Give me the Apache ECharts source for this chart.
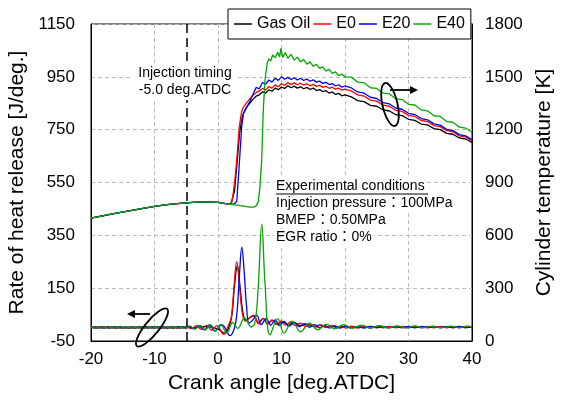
<!DOCTYPE html>
<html>
<head>
<meta charset="utf-8">
<script src="https://cdn.jsdelivr.net/npm/echarts@6/dist/echarts.min.js"></script>
<style>
html, body { margin: 0; padding: 0; background: #fff; }
#chart { width: 561px; height: 401px; }
</style>
</head>
<body>
<div id="chart"></div>
<script>
var fuels = ['Gas Oil', 'E0', 'E20', 'E40'];
var colors = ['#000000', '#ff0000', '#0000ff', '#00a800'];

// cylinder temperature [K] (right axis); compression part is the same for every fuel
var compressionTemp = [[-20,698],[-18,712],[-16,726],[-14,739],[-12,752],[-10,764],[-8,774],[-6,782],[-4,787],[-2,790],[0,787],[1,781],[1.5,777]];
var gasOilTemp = [[2,776],[2.3,782],[2.6,850],[3.0,1010],[3.4,1180],[3.8,1270],[4.1,1300],[4.5,1328],[5,1350],[5.5,1372],[6,1390],[6.5,1398],[7,1414],[7.5,1408],[8,1426],[8.5,1418],[9,1436],[9.5,1427],[10,1442],[10.5,1434],[11,1449],[11.5,1438],[12,1447],[12.5,1436],[13,1444],[13.5,1432],[14,1440],[14.5,1428],[15,1436],[15.5,1422],[16,1428],[16.5,1416],[17,1421],[17.5,1408],[18,1414],[18.5,1400],[19,1406],[19.5,1392],[20,1397],[21,1386],[22,1365],[23,1359],[24,1338],[25,1333],[26,1312],[27,1306],[28,1285],[29,1280],[30,1259],[31,1253],[32,1232],[33,1227],[34,1206],[35,1200],[36,1179],[37,1174],[38,1153],[39,1147],[40,1128]];
var e0Temp = [[2,778],[2.2,790],[2.4,837],[2.7,930],[2.95,1026],[3.15,1120],[3.35,1215],[3.7,1300],[4,1328],[4.5,1352],[5,1375],[5.5,1396],[6,1410],[6.5,1420],[7,1434],[7.5,1426],[8,1444],[8.5,1436],[9,1454],[9.5,1444],[10,1461],[10.5,1451],[11,1467],[11.5,1456],[12,1466],[12.5,1455],[13,1464],[13.5,1452],[14,1461],[14.5,1449],[15,1457],[15.5,1446],[16,1452],[16.5,1440],[17,1447],[17.5,1435],[18,1441],[18.5,1430],[19,1436],[19.5,1424],[20,1430],[21,1420],[22,1397],[23,1391],[24,1368],[25,1362],[26,1339],[27,1333],[28,1310],[29,1304],[30,1281],[31,1275],[32,1252],[33,1246],[34,1223],[35,1217],[36,1194],[37,1188],[38,1165],[39,1159],[40,1138]];
var e20Temp = [[2,776],[2.5,778],[2.95,792],[3.3,975],[3.73,1215],[4.0,1290],[4.4,1318],[5.0,1360],[5.5,1400],[6.0,1440],[6.5,1432],[7,1468],[7.5,1458],[8,1482],[8.5,1470],[9,1492],[9.5,1480],[10,1500],[10.5,1486],[11,1497],[11.5,1485],[12,1495],[12.5,1482],[13,1492],[13.5,1479],[14,1488],[14.5,1475],[15,1483],[15.5,1470],[16,1476],[16.5,1463],[17,1469],[17.5,1456],[18,1462],[18.5,1448],[19,1455],[19.5,1441],[20,1448],[21,1437],[22,1414],[23,1407],[24,1384],[25,1377],[26,1353],[27,1346],[28,1323],[29,1316],[30,1293],[31,1286],[32,1263],[33,1256],[34,1233],[35,1226],[36,1202],[37,1195],[38,1172],[39,1165],[40,1144]];
var e40Temp = [[2,776],[3,771],[4,766],[4.5,763],[5,761],[5.6,760],[6,767],[6.35,790],[6.6,875],[6.88,1026],[7.13,1310],[7.4,1480],[7.76,1580],[8,1602],[8.3,1590],[8.6,1624],[9,1608],[9.4,1640],[9.7,1612],[9.9,1662],[10.2,1610],[10.6,1638],[11,1605],[11.5,1628],[12,1595],[12.5,1612],[13,1585],[13.5,1598],[14,1572],[14.5,1585],[15,1560],[15.5,1571],[16,1548],[16.5,1557],[17,1533],[17.5,1542],[18,1520],[18.5,1528],[19,1507],[19.5,1515],[20,1500],[21,1498],[22,1470],[23,1466],[24,1438],[25,1434],[26,1407],[27,1403],[28,1375],[29,1371],[30,1344],[31,1340],[32,1312],[33,1307],[34,1279],[35,1275],[36,1246],[37,1242],[38,1214],[39,1209],[40,1185]];

// rate of heat release [J/deg.] (left axis)
var gasOilHrr = [[-20,2],[-17,3],[-14,1],[-11,3],[-8,1],[-6,3],[-4,0],[-2,5],[0,-5],[1.0,-20],[1.7,0],[2.2,50],[2.6,160],[3.05,235],[3.45,160],[3.9,60],[4.4,28],[5.0,38],[5.6,44],[6.4,18],[7.1,36],[7.8,16],[8.6,28],[9.4,12],[10.2,24],[11,10],[12,20],[13,8],[14,14],[15,5],[16,10],[17,3],[18,7],[19,2],[20,5],[22,2],[24,4],[26,2],[28,3],[30,2],[32,3],[34,2],[36,3],[38,2],[40,3]];
var e0Hrr = [[-20,4],[-19.5,-2],[-19,4],[-18.5,-2],[-18,4],[-17.5,-2],[-17,4],[-16.5,-2],[-16,4],[-15.5,-2],[-15,4],[-14.5,-2],[-14,4],[-13.5,-2],[-13,4],[-12.5,-2],[-12,4],[-11.5,-2],[-11,4],[-10.5,-2],[-10,4],[-9.5,-2],[-9,4],[-8.5,-2],[-8,4],[-7.5,-2],[-7,4],[-6.5,-2],[-6,4],[-5.5,-2],[-5,5],[-4.2,-3],[-3.4,7],[-2.6,-6],[-1.8,9],[-1,-10],[-0.2,8],[0.9,-25],[1.6,8],[2.1,40],[2.5,150],[2.95,250],[3.35,170],[3.8,60],[4.3,25],[4.9,36],[5.6,48],[6.4,15],[7.1,36],[7.8,14],[8.5,30],[9.2,12],[9.9,26],[10.6,10],[11.4,22],[12.2,8],[13,18],[13.8,5],[14.6,14],[15.4,3],[16.2,11],[17,1],[17.8,9],[18.6,0],[19.4,7],[20.2,-1],[21,6],[22,-1],[23,6],[24,-1],[25,5],[26,0],[27,5],[28,0],[29,5],[30,0],[31,5],[32,0],[33,5],[34,0],[35,5],[36,0],[37,5],[38,0],[39,5],[40,1]];
var e20Hrr = [[-20,-2],[-19.5,4],[-19,-2],[-18.5,4],[-18,-2],[-17.5,4],[-17,-2],[-16.5,4],[-16,-2],[-15.5,4],[-15,-2],[-14.5,4],[-14,-2],[-13.5,4],[-13,-2],[-12.5,4],[-12,-2],[-11.5,4],[-11,-2],[-10.5,4],[-10,-2],[-9.5,4],[-9,-2],[-8.5,4],[-8,-2],[-7.5,4],[-7,-2],[-6.5,4],[-6,-2],[-5.5,4],[-5,-2],[-4.6,6],[-3.8,-4],[-3,9],[-2.2,-8],[-1.4,11],[-0.5,-12],[0.6,12],[1.9,-30],[2.6,0],[3.0,60],[3.4,210],[3.75,305],[4.1,220],[4.5,80],[4.9,18],[5.5,30],[6.1,48],[6.8,12],[7.6,36],[8.3,10],[9.0,30],[9.7,8],[10.4,24],[11.2,6],[12,20],[12.8,4],[13.6,16],[14.4,2],[15.2,12],[16,0],[16.8,9],[17.6,-1],[18.4,7],[19.2,-1],[20,6],[21,-1],[22,5],[23,-1],[24,5],[25,0],[26,5],[27,0],[28,5],[29,0],[30,5],[31,0],[32,5],[33,0],[34,5],[35,0],[36,5],[37,0],[38,5],[39,0],[40,4]];
var e40Hrr = [[-20,1],[-19.75,4],[-19.25,-2],[-18.75,4],[-18.25,-2],[-17.75,4],[-17.25,-2],[-16.75,4],[-16.25,-2],[-15.75,4],[-15.25,-2],[-14.75,4],[-14.25,-2],[-13.75,4],[-13.25,-2],[-12.75,4],[-12.25,-2],[-11.75,4],[-11.25,-2],[-10.75,4],[-10.25,-2],[-9.75,4],[-9.25,-2],[-8.75,4],[-8.25,-2],[-7.75,4],[-7.25,-2],[-6.75,4],[-6.25,-2],[-5.75,4],[-5.25,-2],[-4.4,6],[-3.6,-5],[-2.8,9],[-2.0,-9],[-1.2,12],[-0.4,-13],[0.4,13],[1.4,-20],[2.3,20],[3.1,-2],[4.2,37],[5.2,3],[5.8,18],[6.3,140],[6.9,392],[7.4,170],[8.2,-27],[9.4,35],[10.4,-20],[11.7,25],[13.0,-15],[14.4,18],[15.7,-8],[17.1,14],[18.4,-4],[19.8,12],[21.2,-2],[22.6,10],[24,-1],[25.4,8],[26.8,-1],[28.2,7],[29.6,-1],[31,7],[32.4,0],[33.8,6],[35.2,0],[36.6,6],[38,0],[39.4,6],[40,3]];

var tempData = [compressionTemp.concat(gasOilTemp), compressionTemp.concat(e0Temp), compressionTemp.concat(e20Temp), compressionTemp.concat(e40Temp)];
var hrrData = [gasOilHrr, e0Hrr, e20Hrr, e40Hrr];

var fontFamily = "'Liberation Sans', Arial, 'Noto Sans CJK JP', sans-serif";
var chart = echarts.init(document.getElementById('chart'));

var series = [];
for (var i = 0; i < fuels.length; i++) {
  series.push({
    name: fuels[i], type: 'line', yAxisIndex: 1, data: tempData[i],
    symbol: 'none', smooth: false, z: 2 + i,
    lineStyle: {color: colors[i], width: 1.3}, itemStyle: {color: colors[i]}
  });
}
for (var j = 0; j < fuels.length; j++) {
  series.push({
    name: fuels[j], type: 'line', yAxisIndex: 0, data: hrrData[j],
    symbol: 'none', smooth: 0.4, z: 2 + j,
    lineStyle: {color: colors[j], width: 1.3}, itemStyle: {color: colors[j]}
  });
}
// injection timing line
series[0].markLine = {
  silent: true, symbol: 'none', label: {show: false},
  lineStyle: {color: '#000', type: [9, 5], width: 1.5},
  data: [{xAxis: -5}]
};

function plain(v) { return String(v); }

var option = {
  animation: false,
  textStyle: {fontFamily: fontFamily},
  grid: {left: 91, right: 89, top: 24, bottom: 60, show: true, borderColor: '#000', borderWidth: 1,
    containLabel: false, outerBoundsMode: 'none'},
  legend: {
    data: fuels, left: 228, top: 9, padding: [7, 6], icon: 'rect', itemWidth: 18, itemHeight: 1.5, itemGap: 3,
    backgroundColor: '#fff', borderColor: '#000', borderWidth: 1,
    textStyle: {fontSize: 16, color: '#000', fontFamily: fontFamily}
  },
  xAxis: {
    type: 'value', min: -20, max: 40, interval: 10,
    axisLine: {show: true, onZero: false, lineStyle: {color: '#000'}},
    axisTick: {show: false},
    axisLabel: {fontSize: 17, color: '#000', margin: 10, fontFamily: fontFamily, formatter: plain},
    splitLine: {show: true, lineStyle: {color: '#bbbbbb', type: [4, 3]}},
    name: 'Crank angle [deg.ATDC]', nameLocation: 'middle', nameGap: 31,
    nameTextStyle: {fontSize: 21, color: '#000', fontFamily: fontFamily}
  },
  yAxis: [{
    type: 'value', position: 'left', min: -50, max: 1150, interval: 200,
    axisLine: {show: true, onZero: false, lineStyle: {color: '#000'}},
    axisTick: {show: false},
    axisLabel: {fontSize: 17, color: '#000', margin: 16, fontFamily: fontFamily, formatter: plain},
    splitLine: {show: true, lineStyle: {color: '#bbbbbb', type: [4, 3]}},
    name: 'Rate of heat release [J/deg.]', nameLocation: 'middle', nameGap: 62, nameRotate: 90,
    nameTextStyle: {fontSize: 21, color: '#000', fontFamily: fontFamily}
  }, {
    type: 'value', position: 'right', min: 0, max: 1800, interval: 300,
    axisLine: {show: true, onZero: false, lineStyle: {color: '#000'}},
    axisTick: {show: false},
    axisLabel: {fontSize: 17, color: '#000', margin: 13, fontFamily: fontFamily, formatter: plain},
    splitLine: {show: false},
    name: 'Cylinder temperature [K]', nameLocation: 'middle', nameGap: 62, nameRotate: 90,
    nameTextStyle: {fontSize: 21, color: '#000', fontFamily: fontFamily}
  }],
  graphic: [
    {type: 'text', x: 185, y: 82, z: 100, style: {
      text: 'Injection timing\n-5.0 deg.ATDC', fill: '#000', font: '14px ' + fontFamily,
      align: 'center', verticalAlign: 'middle', lineHeight: 17, backgroundColor: '#fff', padding: [1, 6]}},
    {type: 'text', x: 274, y: 186, z: 100, style: {text: 'Experimental conditions', fill: '#000', font: '14px ' + fontFamily, align: 'left', verticalAlign: 'middle', backgroundColor: '#fff', padding: [1, 2]}},
    {type: 'text', x: 274, y: 203, z: 100, style: {text: 'Injection pressure：100MPa', fill: '#000', font: '14px ' + fontFamily, align: 'left', verticalAlign: 'middle', backgroundColor: '#fff', padding: [1, 2]}},
    {type: 'text', x: 274, y: 220, z: 100, style: {text: 'BMEP：0.50MPa', fill: '#000', font: '14px ' + fontFamily, align: 'left', verticalAlign: 'middle', backgroundColor: '#fff', padding: [1, 2]}},
    {type: 'text', x: 274, y: 237, z: 100, style: {text: 'EGR ratio：0%', fill: '#000', font: '14px ' + fontFamily, align: 'left', verticalAlign: 'middle', backgroundColor: '#fff', padding: [1, 2]}},
    {type: 'line', z: 101, shape: {x1: 276, y1: 194, x2: 428, y2: 194}, style: {stroke: '#000', lineWidth: 1}},
    // curl arrows: left one points at heat release axis, right one at temperature axis
    {type: 'ellipse', x: 152, y: 327.5, rotation: 51 * Math.PI / 180, z: 100, shape: {cx: 0, cy: 0, rx: 24, ry: 7}, style: {stroke: '#000', fill: 'none', lineWidth: 1.8}},
    {type: 'line', z: 100, shape: {x1: 150, y1: 314, x2: 133, y2: 314}, style: {stroke: '#000', lineWidth: 1.8}},
    {type: 'polygon', z: 100, shape: {points: [[127, 314], [135, 310], [135, 318]]}, style: {fill: '#000'}},
    {type: 'ellipse', x: 390, y: 104.5, rotation: -77 * Math.PI / 180, z: 100, shape: {cx: 0, cy: 0, rx: 22, ry: 7.5}, style: {stroke: '#000', fill: 'none', lineWidth: 1.8}},
    {type: 'line', z: 100, shape: {x1: 390, y1: 90, x2: 411, y2: 90}, style: {stroke: '#000', lineWidth: 1.8}},
    {type: 'polygon', z: 100, shape: {points: [[418, 90], [410, 86], [410, 94]]}, style: {fill: '#000'}}
  ],
  series: series
};
chart.setOption(option);
</script>
</body>
</html>
